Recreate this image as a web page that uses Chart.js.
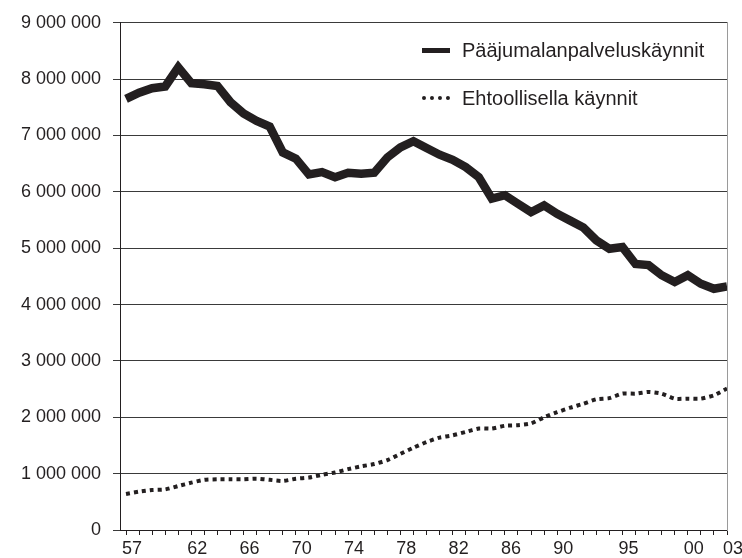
<!DOCTYPE html>
<html>
<head>
<meta charset="utf-8">
<script src="https://cdn.jsdelivr.net/npm/chart.js@4.4.1/dist/chart.umd.min.js"></script>
<style>
  html, body { margin: 0; padding: 0; background: #fff; }
  #wrap { position: relative; width: 742px; height: 558px; }
  #legend { position: absolute; left: 422px; top: 38px; font-family: 'Liberation Sans', Arial, sans-serif;
            font-size: 20px; color: #231f20; }
  #legend .row { display: flex; align-items: center; height: 24px; margin-bottom: 24px; }
  #legend .mark { width: 28px; margin-right: 12px; }
</style>
</head>
<body>
<div id="wrap">
  <canvas id="chart" width="742" height="558"></canvas>
  <div id="legend"></div>
</div>
<script>
// years 1957-2003
const years = [1957, 1958, 1959, 1960, 1961, 1962, 1963, 1964, 1965, 1966,
               1967, 1968, 1969, 1970, 1971, 1972, 1973, 1974, 1975, 1976,
               1977, 1978, 1979, 1980, 1981, 1982, 1983, 1984, 1985, 1986,
               1987, 1988, 1989, 1990, 1991, 1992, 1993, 1994, 1995, 1996,
               1997, 1998, 1999, 2000, 2001, 2002, 2003];

const labeledYears = [1957, 1962, 1966, 1970, 1974, 1978, 1982, 1986, 1990, 1995, 2000, 2003];

// Pääjumalanpalveluskäynnit
const mainServices = [7650000, 7760000, 7840000, 7870000, 8210000, 7930000, 7910000, 7880000, 7590000, 7390000,
                      7260000, 7160000, 6700000, 6590000, 6310000, 6350000, 6260000, 6340000, 6320000, 6340000,
                      6610000, 6790000, 6900000, 6780000, 6660000, 6570000, 6440000, 6260000, 5880000, 5940000,
                      5790000, 5640000, 5760000, 5610000, 5490000, 5370000, 5140000, 4990000, 5020000, 4720000,
                      4700000, 4520000, 4400000, 4520000, 4370000, 4280000, 4320000];

// Ehtoollisella käynnit
const communion = [640000, 680000, 710000, 720000, 780000, 840000, 890000, 900000, 900000, 900000,
                   910000, 890000, 870000, 910000, 930000, 980000, 1020000, 1080000, 1130000, 1170000,
                   1240000, 1350000, 1460000, 1560000, 1640000, 1680000, 1740000, 1800000, 1800000, 1850000,
                   1860000, 1890000, 2000000, 2090000, 2170000, 2240000, 2320000, 2340000, 2420000, 2420000,
                   2450000, 2420000, 2330000, 2330000, 2330000, 2390000, 2510000];

const seriesNames = ['Pääjumalanpalveluskäynnit', 'Ehtoollisella käynnit'];

const ink = '#231f20';
const font = { family: "'Liberation Sans', Arial, sans-serif", size: 18 };

function spaced(v) {
    return String(v).replace(/\B(?=(\d{3})+(?!\d))/g, ' ');
}

const ctx = document.getElementById('chart');

let chart = new Chart(ctx, {
    type: 'line',
    data: {
        datasets: [{
            label: seriesNames[0],
            data: years.map((y, i) => ({ x: y, y: mainServices[i] })),
            borderColor: ink,
            borderWidth: 8.5,
            pointRadius: 0,
            tension: 0
        }, {
            label: seriesNames[1],
            data: years.map((y, i) => ({ x: y, y: communion[i] })),
            borderColor: ink,
            borderWidth: 4,
            borderDash: [4, 4],
            pointRadius: 0,
            tension: 0.2
        }]
    },
    options: {
        responsive: false,
        animation: false,
        devicePixelRatio: 1,
        layout: {
            padding: { top: 22, right: 15, left: 0, bottom: 0 }
        },
        scales: {
            x: {
                type: 'linear',
                min: 1956.54,
                max: 2003,
                afterBuildTicks: (s) => { s.ticks = years.map(y => ({ value: y })); },
                afterFit: (s) => { s.height = 28; },
                ticks: {
                    autoSkip: false,
                    maxRotation: 0,
                    padding: 3,
                    labelOffset: 6,
                    color: ink,
                    font: font,
                    callback: (v) => labeledYears.includes(v) ? String(v).slice(2) : ''
                },
                grid: {
                    drawOnChartArea: false,
                    drawTicks: true,
                    tickLength: 5,
                    color: ink
                },
                border: { color: ink, width: 1 }
            },
            y: {
                min: 0,
                max: 9000000,
                afterFit: (s) => { s.width = 120; },
                ticks: {
                    stepSize: 1000000,
                    padding: 12,
                    color: ink,
                    font: font,
                    callback: (v) => spaced(v)
                },
                grid: {
                    color: '#3a3a3a',
                    lineWidth: 1,
                    tickLength: 7
                },
                border: { color: ink, width: 1 }
            },
            y2: {
                position: 'right',
                afterFit: (s) => { s.width = 0; },
                ticks: { display: false },
                grid: { display: false, drawTicks: false },
                border: { color: '#9a9a9a', width: 1 }
            }
        },
        plugins: {
            legend: { display: false },
            tooltip: { enabled: false }
        }
    }
});

// legend drawn as html on top of the plot
const legendBox = document.getElementById('legend');
chart.data.datasets.forEach((ds, i) => {
    const row = document.createElement('div');
    row.className = 'row';
    const mark = document.createElement('span');
    mark.className = 'mark';
    mark.style.borderTop = i === 0 ? '5px solid ' + ink : '4px dotted ' + ink;
    const txt = document.createElement('span');
    txt.textContent = ds.label;
    row.appendChild(mark);
    row.appendChild(txt);
    legendBox.appendChild(row);
});
</script>
</body>
</html>
